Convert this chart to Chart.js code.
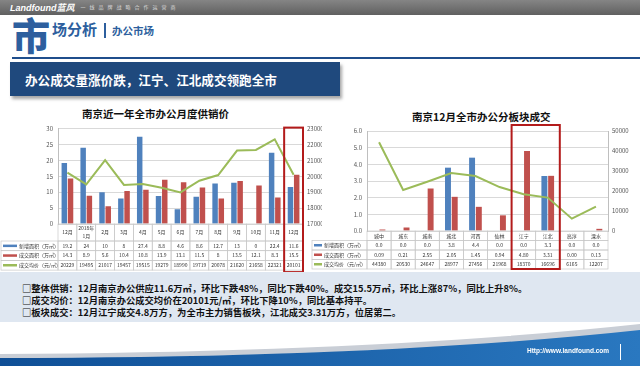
<!DOCTYPE html>
<html>
<head>
<meta charset="utf-8">
<script src="https://cdn.jsdelivr.net/npm/chart.js@4.4.1/dist/chart.umd.min.js"></script>
<style>
  body { margin: 0; width: 640px; height: 366px; overflow: hidden; background: #fff; position: relative;
         font-family: "Noto Sans CJK SC", "Noto Sans", sans-serif; }
  .abs { position: absolute; }
  #topbar { left: 0; top: 0; width: 640px; height: 15px; background: linear-gradient(#858585, #606060); }
  #logo { left: 10px; top: 1px; color: #fff; font: italic bold 9px "Liberation Sans", "Noto Sans CJK SC"; }
  #slogan { left: 70px; top: 3px; color: #ddd; font-size: 5px; letter-spacing: 4px; }
  #big { left: 12px; top: 10px; color: #2d5f9e; font-size: 38px; font-weight: 900; line-height: 48px; }
  #sub { left: 52px; top: 18px; color: #2d5f9e; font-size: 15px; font-weight: bold; }
  #bar { left: 104px; top: 23px; width: 2px; height: 15px; background: #2d5f9e; }
  #sub2 { left: 112px; top: 23px; color: #2d5f9e; font-size: 10.5px; font-weight: bold; }
  #rule { left: 12px; top: 57px; width: 628px; height: 2px; background: #1f4e8c; }
  #banner { left: 10px; top: 62px; width: 330px; height: 34px; background: #1f497d;
            box-shadow: 2px 3px 3px rgba(0,0,0,0.35); }
  #banner span { position: absolute; left: 15px; top: 8px; color: #fff; font-size: 12.6px; font-weight: bold; white-space: nowrap; }
  .ctitle { font-size: 10.5px; font-weight: bold; color: #111; white-space: nowrap; }
  #panel { left: 0; top: 272px; width: 640px; height: 50px; background: #dfe7f1; }
  #notes { left: 22px; top: 282px; font-size: 9.3px; font-weight: bold; color: #111; line-height: 12px; white-space: nowrap; }
  #url { left: 527px; top: 347px; color: #fff; font: bold 6.5px "Liberation Sans"; }
  #vline { left: 620px; top: 344px; width: 1px; height: 16px; background: #fff; }
</style>
</head>
<body>
<div id="topbar" class="abs"></div>
<div id="logo" class="abs">Landfound蓝风</div>
<div id="slogan" class="abs">| 一线品牌战略合作运营商</div>
<div id="big" class="abs">市</div>
<div id="sub" class="abs">场分析</div>
<div id="bar" class="abs"></div>
<div id="sub2" class="abs">办公市场</div>
<div id="rule" class="abs"></div>
<div id="banner" class="abs"><span>办公成交量涨价跌，江宁、江北成交领跑全市</span></div>

<div class="abs ctitle" style="left:82px;top:106px">南京近一年全市办公月度供销价</div>
<div class="abs ctitle" style="left:412px;top:109px">南京12月全市办公分板块成交</div>

<canvas id="c1" class="abs" style="left:0;top:120px;width:322px;height:154px"></canvas>
<canvas id="c2" class="abs" style="left:310px;top:122px;width:320px;height:150px"></canvas>

<div id="panel" class="abs"></div>
<div id="notes" class="abs">□整体供销：12月南京办公供应11.6万㎡，环比下跌48%，同比下跌40%。成交15.5万㎡，环比上涨87%，同比上升8%。<br>□成交均价：12月南京办公成交均价在20101元/㎡，环比下降10%，同比基本持平。<br>□板块成交：12月江宁成交4.8万方，为全市主力销售板块，江北成交3.31万方，位居第二。</div>

<svg class="abs" style="left:0;top:318px" width="640" height="48">
  <defs>
    <linearGradient id="sw" x1="0" x2="1" y1="0" y2="0">
      <stop offset="0" stop-color="#0f4f96"/>
      <stop offset="1" stop-color="#2a78c0"/>
    </linearGradient>
  </defs>
  <path d="M0,36 Q380,34 640,6 L640,14 Q380,40 0,40 Z" fill="#c9ced6"/>
  <path d="M0,40 Q380,40 640,12 L640,48 L0,48 Z" fill="url(#sw)"/>
</svg>
<div id="url" class="abs">Http://www.landfound.com</div>
<div id="vline" class="abs"></div>

<script>
// left chart: monthly supply / sales / price
const months = ["12月", "2018年1月", "2月", "3月", "4月", "5月", "6月", "7月", "8月", "9月", "10月", "11月", "12月"];
const newArea = [19.2, 24, 10, 8, 27.4, 8.8, 4.6, 8.6, 12.7, 13, 0, 22.4, 11.6];
const soldArea = [14.3, 8.9, 5.6, 10.4, 10.8, 13.9, 13.1, 11.5, 8, 13.5, 12.1, 8.3, 15.5];
const avgPrice = [20229, 19495, 21017, 19457, 19515, 19279, 18990, 19719, 20078, 21620, 21658, 22321, 20101];

// right chart: December by district
const districts = ["城中", "城东", "城南", "城北", "河西", "仙林", "江宁", "江北", "高淳", "溧水"];
const distNew = [0, 0, 0, 3.8, 4.4, 0, 0, 3.3, 0, 0];
const distSold = [0.09, 0.21, 2.55, 2.05, 1.45, 0.94, 4.80, 3.31, 0.00, 0.13];
const distPrice = [44380, 20530, 24647, 28977, 27456, 21968, 18370, 16696, 6165, 12207];

const BLUE = "#4f81bd", RED = "#c0504d", GREEN = "#9bbb59";
const FONT = '"Noto Sans CJK SC", sans-serif';

// draws the Excel-style data table under the plot and the red highlight frame
const dataTable = {
  id: "dataTable",
  afterDraw(chart, args, o) {
    const { ctx, chartArea: a, scales: { x } } = chart;
    const n = chart.data.labels.length;
    const w = (a.right - a.left) / n;
    const top = a.bottom;
    ctx.save();
    ctx.strokeStyle = "#c8c8c8";
    ctx.lineWidth = 0.7;
    ctx.fillStyle = "#333";
    ctx.font = o.fontSize + "px " + FONT;
    ctx.textBaseline = "middle";
    ctx.textAlign = "center";
    chart.data.labels.forEach((lab, i) => {
      const xl = x.getPixelForValue(i) - w / 2;
      ctx.strokeRect(xl, top, w, o.catH);
      // wrap long labels by character
      const lines = [];
      let cur = "";
      for (const ch of lab) {
        if (ctx.measureText(cur + ch).width > w && cur) { lines.push(cur); cur = ch; }
        else cur += ch;
      }
      lines.push(cur);
      const lh = o.fontSize + 3;
      lines.forEach((t, k) => {
        ctx.fillText(t, xl + w / 2, top + o.catH / 2 + (k - (lines.length - 1) / 2) * lh);
      });
    });
    chart.data.datasets.forEach((ds, r) => {
      const y0 = top + o.catH + r * o.rowH;
      const ym = y0 + o.rowH / 2;
      ctx.strokeRect(o.legendLeft, y0, a.left - o.legendLeft, o.rowH);
      ctx.save();
      ctx.strokeStyle = ds.borderColor;
      ctx.lineWidth = 2.5;
      ctx.beginPath();
      ctx.moveTo(o.legendLeft + 2, ym);
      ctx.lineTo(o.legendLeft + o.swatch, ym);
      ctx.stroke();
      ctx.restore();
      ctx.textAlign = "left";
      ctx.fillText(ds.label, o.legendLeft + o.swatch + 2, ym);
      ctx.textAlign = "center";
      ds.data.forEach((v, i) => {
        const xl = x.getPixelForValue(i) - w / 2;
        ctx.strokeRect(xl, y0, w, o.rowH);
        ctx.fillText(ds.fmt ? ds.fmt(v) : String(v), xl + w / 2, ym);
      });
    });
    if (o.highlight) {
      const [i0, i1] = o.highlight;
      const xl = x.getPixelForValue(i0) - w / 2;
      const xr = x.getPixelForValue(i1) + w / 2;
      const yb = top + o.catH + chart.data.datasets.length * o.rowH + o.boxBottom;
      ctx.strokeStyle = "#b31b1b";
      ctx.lineWidth = 2;
      ctx.strokeRect(xl, a.top - o.boxTop, xr - xl, yb - a.top + o.boxTop);
    }
    ctx.restore();
  }
};

function makeChart(id, labels, bars1, bars2, line, cfg) {
  return new Chart(document.getElementById(id), {
    data: {
      labels: labels,
      datasets: [
        { type: "bar", label: "新增面积（万㎡）", data: bars1, backgroundColor: BLUE, borderColor: BLUE,
          yAxisID: "y", order: 1, barPercentage: 0.88, categoryPercentage: cfg.catPct, fmt: cfg.fmt1 },
        { type: "bar", label: "成交面积（万㎡）", data: bars2, backgroundColor: RED, borderColor: RED,
          yAxisID: "y", order: 1, barPercentage: 0.88, categoryPercentage: cfg.catPct, fmt: cfg.fmt2 },
        { type: "line", label: "成交均价（元/㎡）", data: line, borderColor: GREEN, backgroundColor: GREEN,
          borderWidth: 2, pointRadius: 0, tension: 0, yAxisID: "y1", order: 0 }
      ]
    },
    options: {
      responsive: false,
      animation: false,
      devicePixelRatio: 1,
      layout: { padding: { top: cfg.top, bottom: cfg.bottom, left: 0, right: 0 } },
      plugins: { legend: { display: false }, tooltip: { enabled: false }, dataTable: cfg.table },
      scales: {
        x: { display: false },
        y: {
          position: "left", min: cfg.yMin, max: cfg.yMax,
          ticks: { stepSize: cfg.yStep, font: { size: 6, family: FONT }, color: "#555", padding: 5,
                   callback: cfg.yFmt },
          grid: { color: "#d9d9d9", drawTicks: false },
          border: { display: true, color: "#bfbfbf" },
          afterFit: s => { s.width = cfg.leftW; }
        },
        y1: {
          position: "right", min: cfg.y1Min, max: cfg.y1Max,
          ticks: { stepSize: cfg.y1Step, font: { size: 6, family: FONT }, color: "#555", padding: 4,
                   callback: v => String(v) },
          grid: { display: false, drawTicks: false },
          border: { display: true, color: "#bfbfbf" },
          afterFit: s => { s.width = cfg.rightW; }
        }
      }
    },
    plugins: [dataTable]
  });
}

for (const id of ["c1", "c2"]) {
  const c = document.getElementById(id);
  c.width = parseInt(c.style.width);
  c.height = parseInt(c.style.height);
}

makeChart("c1", months, newArea, soldArea, avgPrice, {
  catPct: 0.66, top: 8, bottom: 50, leftW: 58, rightW: 19,
  yMin: 0, yMax: 30, yStep: 5, y1Min: 17000, y1Max: 23000, y1Step: 1000,
  yFmt: v => v,
  table: { catH: 17, rowH: 9.7, fontSize: 5, legendLeft: 1, swatch: 16, highlight: [12, 12], boxTop: 1, boxBottom: 2 }
});

makeChart("c2", districts, distNew, distSold, distPrice, {
  catPct: 0.56, top: 9, bottom: 41, leftW: 57, rightW: 22,
  yMin: 0, yMax: 6, yStep: 1, y1Min: 0, y1Max: 50000, y1Step: 5000,
  yFmt: v => v.toFixed(1),
  fmt1: v => v.toFixed(1), fmt2: v => v.toFixed(2),
  table: { catH: 9.5, rowH: 9.5, fontSize: 5, legendLeft: 2, swatch: 10, highlight: [6, 7], boxTop: 6, boxBottom: 0 }
});
</script>
</body>
</html>
